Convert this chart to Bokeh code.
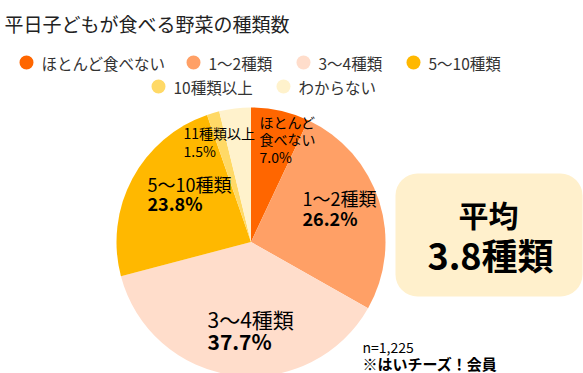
import math
from bokeh.plotting import figure
from bokeh.models import Range1d, BoxAnnotation, ColumnDataSource
from bokeh.core.properties import value
from bokeh.embed import file_html
from bokeh.resources import INLINE

# ---- data ----
title_text = "平日子どもが食べる野菜の種類数"
categories = ["ほとんど食べない", "1〜2種類", "3〜4種類", "5〜10種類", "10種類以上", "わからない"]
shares = [7.0, 26.2, 37.7, 23.8, 1.5, 3.8]
slice_names = ["ほとんど\n食べない", "1〜2種類", "3〜4種類", "5〜10種類", "11種類以上", ""]
colors = ["#FF6600", "#FFA066", "#FFDDCB", "#FFB800", "#FFD966", "#FFF2CC"]
average_label = ["平均", "3.8種類"]
notes = ["n=1,225", "※はいチーズ！会員"]

FONT = "Noto Sans CJK JP"
W, H = 583, 373

def Y(y):
    return H - y

p = figure(width=W, height=H, output_backend="svg", toolbar_location=None,
           x_range=Range1d(0, W), y_range=Range1d(0, H),
           x_axis_location=None, y_axis_location=None, min_border=0)
p.outline_line_color = None
p.grid.visible = False
p.background_fill_color = "white"

# ---- average box (underlay) ----
box = BoxAnnotation(left=395, right=582, top=Y(173), bottom=Y(296),
                    fill_color="#FFF0CC", fill_alpha=1.0, line_color=None,
                    border_radius=22, level="underlay")
p.add_layout(box)

# ---- pie ----
cx, cy, r = 250.5, 241.5, 134.5
starts, ends = [], []
cum = 0.0
for v in shares:
    starts.append(math.pi / 2 - 2 * math.pi * cum / 100)
    cum += v
    ends.append(math.pi / 2 - 2 * math.pi * cum / 100)
src = ColumnDataSource(dict(start=starts, end=ends, color=colors))
p.wedge(x=cx, y=Y(cy), radius=r, start_angle="start", end_angle="end",
        direction="clock", fill_color="color", line_color=None, source=src)

def txt(x, y, s, size, color="#111111", style="normal", align="left"):
    p.text(x=[x], y=[Y(y)], text=[s], text_font=value(FONT), text_font_size=f"{size}px",
           text_color=color, text_font_style=style, text_baseline="middle", text_align=align)

# ---- title ----
txt(4, 23, title_text, 19, color="#222222")

# ---- legend ----
leg_pos = [(26, 62), (193, 62), (303, 62), (413, 62), (158, 86), (283, 86)]
for (lx, ly), name, c in zip(leg_pos, categories, colors):
    p.scatter(x=[lx], y=[Y(ly)], size=14, marker="circle", fill_color=c, line_color=None)
    txt(lx + 15, ly, name, 15.5, color="#333333")

# ---- slice labels ----
def pct(v):
    return f"{v:.1f}%"

lbl = [
    (259, [121, 138], 156, 14, "normal"),
    (302, [197], 217, 18, "bold"),
    (207, [318], 340, 21, "bold"),
    (147, [183], 202, 18, "bold"),
    (183, [132], 150, 14, "normal"),
]
for i, (lx, ys, py, size, st) in enumerate(lbl):
    for line, yy in zip(slice_names[i].split("\n"), ys):
        txt(lx, yy, line, size, color="#000000")
    txt(lx, py, pct(shares[i]), size, color="#000000", style=st)

# ---- average text ----
txt(488, 213, average_label[0], 30, color="#000000", style="bold", align="center")
txt(490, 253, average_label[1], 36, color="#000000", style="bold", align="center")

# ---- notes ----
txt(362, 346, notes[0], 14, color="#000000")
txt(362, 363, notes[1], 15, color="#000000", style="bold")

open("out.html", "w").write(file_html(p, INLINE))
